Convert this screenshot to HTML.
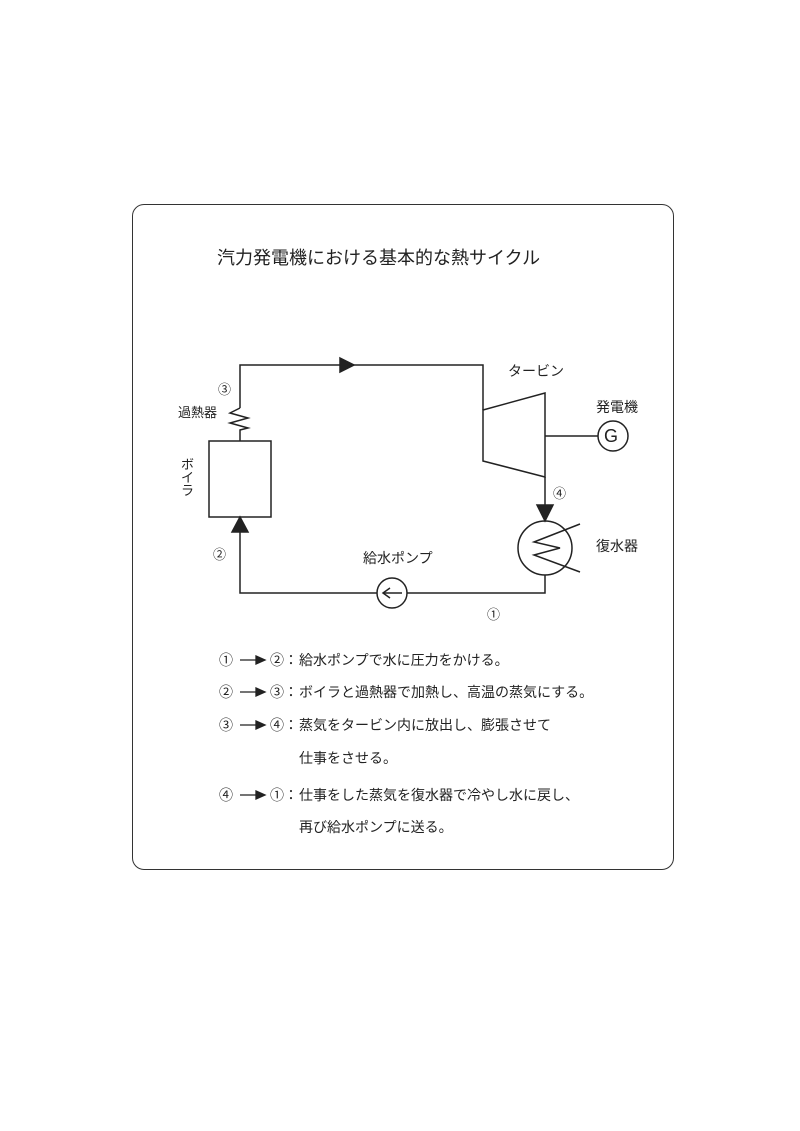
<!DOCTYPE html>
<html><head><meta charset="utf-8"><style>
body{margin:0;background:#fff;width:800px;height:1131px;position:relative;font-family:"Liberation Sans","Noto Sans CJK JP",sans-serif;color:#222}
.t{position:absolute;white-space:nowrap;line-height:1}
.l{position:absolute;white-space:nowrap;line-height:1;font-size:14px}
</style></head><body>
<div style="position:absolute;left:132px;top:204px;width:540px;height:664px;border:1.5px solid #333;border-radius:12px"></div>
<div class="t" style="left:217px;top:249px;font-size:18px">汽力発電機における基本的な熱サイクル</div>
<svg width="800" height="1131" style="position:absolute;left:0;top:0" fill="none" stroke="#222" stroke-width="1.5">
<polyline points="240,408 240,365 483,365 483,410"/>
<polygon points="340,358 354,365 340,372" fill="#222"/>
<polyline points="240,408 230,413 248,418 230,423 248,428 240,430 240,441"/>
<rect x="209" y="441" width="62" height="76"/>
<polygon points="483,410 545,393 545,477 483,461"/>
<line x1="545" y1="436" x2="598" y2="436"/>
<circle cx="613" cy="436" r="15"/>
<line x1="545" y1="477" x2="545" y2="505"/>
<polygon points="537,505 553,505 545,521" fill="#222"/>
<circle cx="545" cy="548" r="27"/>
<polyline points="580,524 534,542 560,548 534,555 580,572"/>
<polyline points="545,575 545,593 407,593"/>
<circle cx="392" cy="593" r="15"/>
<polyline points="377,593 240,593 240,532"/>
<polygon points="232,532 248,532 240,517" fill="#222"/>
<line x1="384" y1="593" x2="402" y2="593"/>
<polyline points="390,588 383,593 390,598"/>
<g stroke-width="1.3">
<line x1="240" y1="660" x2="262" y2="660"/><polygon points="256,656 265,660 256,664" fill="#222"/>
<line x1="240" y1="692" x2="262" y2="692"/><polygon points="256,688 265,692 256,696" fill="#222"/>
<line x1="240" y1="725" x2="262" y2="725"/><polygon points="256,721 265,725 256,729" fill="#222"/>
<line x1="240" y1="795" x2="262" y2="795"/><polygon points="256,791 265,795 256,799" fill="#222"/>
</g>
</svg>
<div class="t" style="left:604px;top:427px;font-size:18px">G</div>
<div class="t" style="left:508px;top:364px;font-size:14px">タービン</div>
<div class="t" style="left:596px;top:400px;font-size:14px">発電機</div>
<div class="t" style="left:596px;top:539px;font-size:14px">復水器</div>
<div class="t" style="left:178px;top:406px;font-size:13px">過熱器</div>
<div class="t" style="left:363px;top:551px;font-size:14px">給水ポンプ</div>
<div class="t" style="left:181px;top:458px;font-size:13px;width:14px;white-space:normal;line-height:13px">ボイラ</div>
<div class="t" style="left:553px;top:487px;font-size:13px">④</div>
<div class="t" style="left:487px;top:608px;font-size:13px">①</div>
<div class="t" style="left:213px;top:548px;font-size:13px">②</div>
<div class="t" style="left:218px;top:383px;font-size:13px">③</div>

<div class="l" style="left:219px;top:653px">①</div><div class="l" style="left:270px;top:653px">②：</div><div class="l" style="left:299px;top:653px">給水ポンプで水に圧力をかける。</div>
<div class="l" style="left:219px;top:685px">②</div><div class="l" style="left:270px;top:685px">③：</div><div class="l" style="left:299px;top:685px">ボイラと過熱器で加熱し、高温の蒸気にする。</div>
<div class="l" style="left:219px;top:718px">③</div><div class="l" style="left:270px;top:718px">④：</div><div class="l" style="left:299px;top:718px">蒸気をタービン内に放出し、膨張させて</div>
<div class="l" style="left:299px;top:751px">仕事をさせる。</div>
<div class="l" style="left:219px;top:788px">④</div><div class="l" style="left:270px;top:788px">①：</div><div class="l" style="left:299px;top:788px">仕事をした蒸気を復水器で冷やし水に戻し、</div>
<div class="l" style="left:299px;top:820px">再び給水ポンプに送る。</div>
</body></html>
